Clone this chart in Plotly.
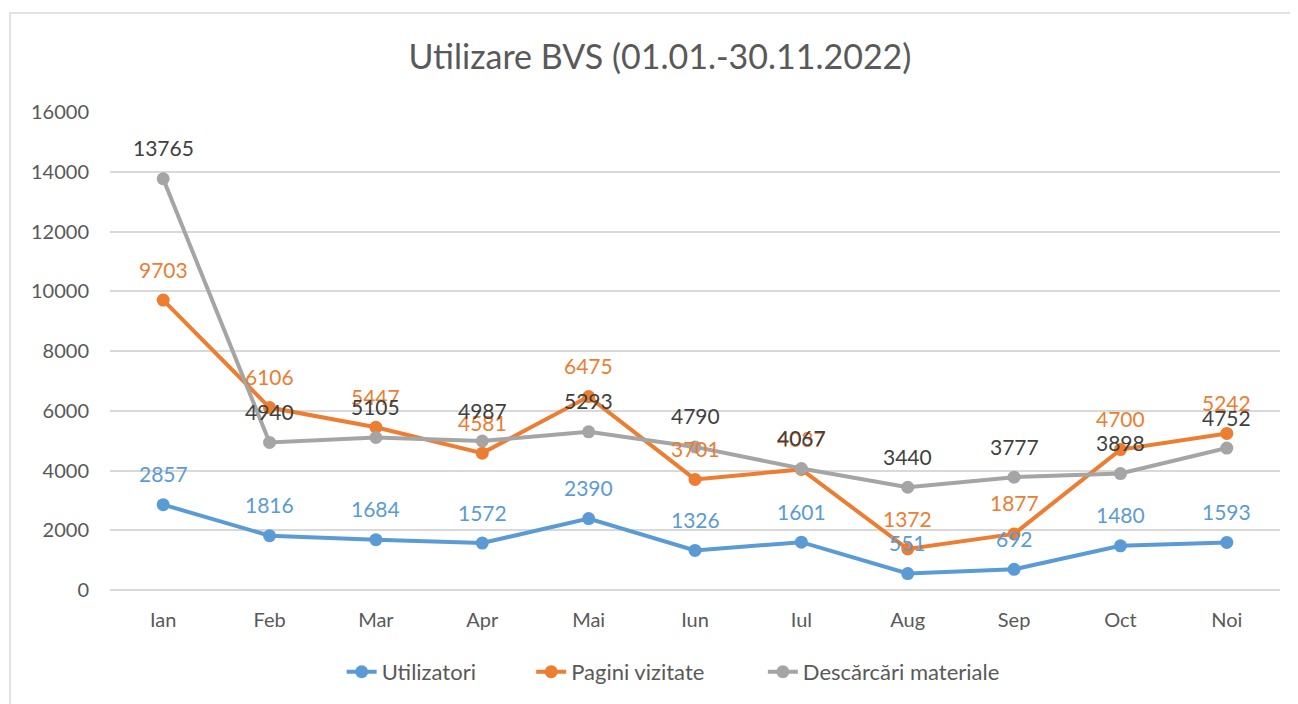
import plotly.graph_objects as go

months = ["Ian", "Feb", "Mar", "Apr", "Mai", "Iun", "Iul", "Aug", "Sep", "Oct", "Noi"]
utilizatori = [2857, 1816, 1684, 1572, 2390, 1326, 1601, 551, 692, 1480, 1593]
pagini = [9703, 6106, 5447, 4581, 6475, 3701, 4037, 1372, 1877, 4700, 5242]
descarcari = [13765, 4940, 5105, 4987, 5293, 4790, 4067, 3440, 3777, 3898, 4752]

series = [
    ("Utilizatori", utilizatori, "#5B9BD5", "#5B9BD5", "legend", 0.198),
    ("Pagini vizitate", pagini, "#ED7D31", "#ED7D31", "legend2", 0.360),
    ("Descărcări materiale", descarcari, "#A5A5A5", "#404040", "legend3", 0.558),
]

FONT = "Lato, 'Open Sans', sans-serif"
fig = go.Figure()
annotations = []
legends = {}
for name, vals, col, lblcol, leg, lx in series:
    fig.add_trace(go.Scatter(
        x=months, y=vals, name=name, mode="lines+markers",
        line=dict(color=col, width=4),
        marker=dict(color=col, size=13),
        legend=leg,
    ))
    legends[leg] = dict(orientation="h", x=lx, xanchor="left", y=-0.1715, yanchor="middle",
                        font=dict(size=22, color="#595959"), bgcolor="rgba(0,0,0,0)")
    for m, v in zip(months, vals):
        annotations.append(dict(x=m, y=v, text=str(v), showarrow=False,
                                yshift=31, font=dict(family=FONT, size=21, color=lblcol)))

fig.update_layout(
    width=1290, height=696,
    margin=dict(l=102, r=18, t=104, b=114, autoexpand=False),
    paper_bgcolor="white", plot_bgcolor="white",
    title=dict(text="Utilizare BVS (01.01.-30.11.2022)", x=0.47, xanchor="center", xref="paper",
               y=(696 - 49) / 696, yanchor="middle",
               font=dict(family=FONT, size=34, color="#595959")),
    font=dict(family=FONT, color="#595959"),
    xaxis=dict(type="category", range=[-0.5, 10.5], showgrid=False, showline=False,
               automargin=False, ticks="", tickfont=dict(size=20, color="#595959"),
               ticklabelstandoff=16),
    yaxis=dict(range=[0, 16000], dtick=2000, tickformat="d", showgrid=True,
               gridcolor="#D9D9D9", gridwidth=1.5, zeroline=True, zerolinecolor="#D9D9D9",
               zerolinewidth=1.5, automargin=False, ticks="",
               tickfont=dict(size=20, color="#595959"), ticklabelstandoff=20),
    showlegend=True,
    annotations=annotations,
    shapes=[dict(type="rect", xref="paper", yref="paper",
                 x0=(2 - 102) / 1170, x1=(1310 - 102) / 1170,
                 y0=(582 - 720) / 478, y1=(582 - 5) / 478,
                 line=dict(color="#D9D9D9", width=1.5), layer="below")],
    **legends,
)

fig.write_html("out.html")
